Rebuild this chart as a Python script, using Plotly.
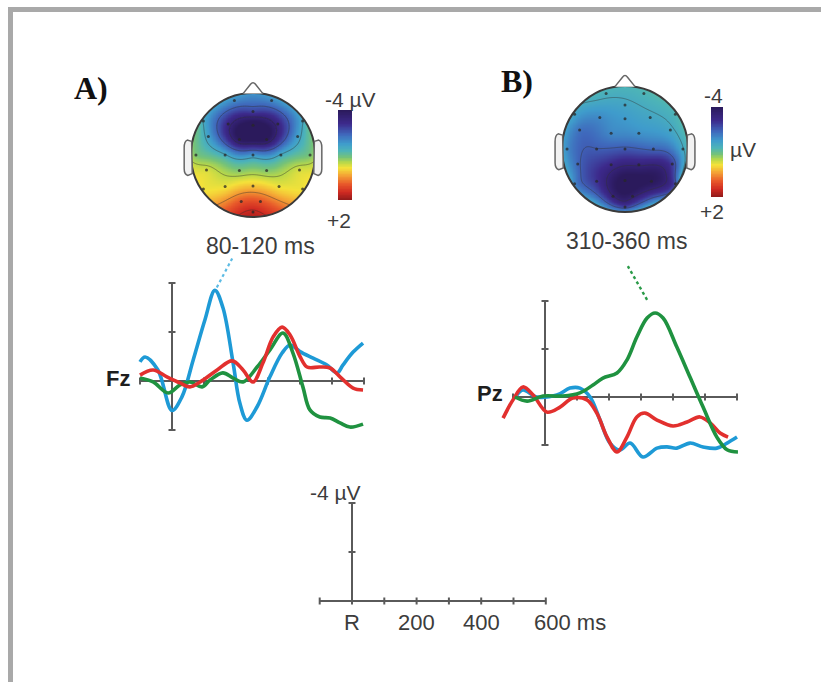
import numpy as np
import plotly.graph_objects as go

W, H = 821, 682

# ---------------- ERP waveforms (µV, negative plotted upward) ----------------
fz_blue_t = [-100, -84, -44, 0, 31, 66, 103, 134, 159, 191, 212, 234, 266, 306, 344, 369, 400, 441, 484, 516, 534, 566, 597]
fz_blue_v = [-0.78, -0.98, -0.45, 1.2, 0.65, -0.85, -2.5, -3.7, -3.0, -0.73, 0.9, 1.6, 1.05, -0.17, -1.14, -1.47, -1.2, -0.93, -0.65, -0.33, -0.65, -1.18, -1.55]

fz_green_t = [-100, -59, -12, 25, 56, 94, 119, 159, 191, 222, 266, 306, 347, 378, 409, 431, 462, 494, 525, 556, 597]
fz_green_v = [-0.12, 0.04, 0.49, 0.16, 0.04, 0.24, -0.04, -0.33, -0.12, 0.04, -0.57, -1.27, -1.96, -1.14, 0.24, 1.18, 1.47, 1.51, 1.71, 1.88, 1.76]

fz_red_t = [-100, -59, -16, 25, 56, 88, 141, 188, 222, 253, 284, 316, 344, 369, 400, 422, 462, 494, 525, 566, 597]
fz_red_v = [-0.24, -0.45, -0.17, 0.08, 0.24, 0.04, -0.45, -0.82, -0.45, 0.04, -0.73, -1.8, -2.2, -1.88, -1.0, -0.57, -0.57, -0.53, -0.17, 0.29, 0.37]

pz_blue_t = [-88, -69, -25, 37, 78, 109, 141, 172, 203, 234, 266, 306, 350, 381, 412, 453, 494, 537, 569, 600]
pz_blue_v = [-0.08, -0.29, 0.0, -0.08, -0.37, -0.37, 0.0, 0.96, 1.92, 2.21, 1.92, 2.5, 2.13, 2.08, 2.13, 1.92, 2.08, 2.13, 1.92, 1.67]

pz_red_t = [-131, -100, -69, -37, 6, 47, 87, 131, 162, 194, 225, 256, 287, 312, 350, 400, 444, 484, 516, 547, 572]
pz_red_v = [0.88, 0.12, -0.42, -0.08, 0.63, 0.42, 0.04, 0.12, 0.67, 1.67, 2.29, 1.67, 0.83, 0.67, 0.96, 1.21, 1.04, 0.83, 1.08, 1.5, 1.67]

pz_green_t = [-94, -56, -6, 56, 109, 150, 181, 225, 256, 287, 319, 344, 369, 412, 453, 494, 537, 569, 603]
pz_green_v = [0.0, 0.17, -0.04, -0.04, -0.17, -0.5, -0.79, -1.0, -1.54, -2.5, -3.29, -3.5, -3.29, -2.08, -0.83, 0.42, 1.67, 2.2, 2.29]

time_ticks = [-100, 0, 100, 200, 300, 400, 500, 600]
volt_ticks = [-4, -2, 2]
scale_labels = ["R", "200", "400", "600 ms"]
scale_label_t = [0, 200, 400, 600]

# ---------------- scalp topographies ----------------
elec_names = ["Fp1", "Fp2", "AFz", "F7", "F3", "Fz", "F4", "F8", "FC5", "FC1", "FC2", "FC6",
              "T7", "C3", "Cz", "C4", "T8", "CP5", "CP1", "CP2", "CP6",
              "P7", "P3", "Pz", "P4", "P8", "O1", "Oz", "O2"]
elec_x = [-0.3, 0.3, 0.0, -0.8, -0.4, 0.0, 0.4, 0.8, -0.72, -0.22, 0.22, 0.72,
          -0.92, -0.45, 0.0, 0.45, 0.92, -0.75, -0.22, 0.22, 0.75,
          -0.8, -0.45, 0.0, 0.42, 0.8, -0.19, 0.0, 0.12]
elec_y = [0.88, 0.88, 0.7, 0.55, 0.5, 0.48, 0.5, 0.55, 0.3, 0.25, 0.25, 0.3,
          0.0, 0.0, 0.0, 0.0, 0.0, -0.24, -0.25, -0.25, -0.24,
          -0.55, -0.51, -0.5, -0.51, -0.55, -0.75, -0.92, -0.75]
# outer ring positions (degrees, counter-clockwise from the right ear)
rim_deg = [90, 60, 30, 0, -30, -60, -90, -120, -150, 180, 150, 120]

topo_a_elec = [-2.0, -2.0, -2.8, -1.6, -3.3, -4.4, -3.3, -1.6, -1.7, -4.0, -4.0, -1.7,
               -0.9, -1.4, -1.7, -1.4, -0.9, -0.3, -0.8, -0.8, -0.3,
               -0.2, -0.2, 0.1, -0.2, -0.2, 1.0, 1.6, 1.0]
topo_a_rim = [-1.9, -1.7, -1.1, -0.6, -0.1, 0.8, 1.7, 0.8, -0.1, -0.6, -1.1, -1.7]

topo_b_elec = [-1.4, -1.3, -1.6, -1.7, -2.0, -1.8, -1.6, -1.3, -2.3, -2.0, -1.9, -1.6,
               -2.0, -2.5, -2.6, -2.4, -1.5, -2.4, -3.2, -3.4, -2.9,
               -2.2, -3.0, -4.2, -4.0, -2.9, -3.5, -3.0, -3.6]
topo_b_rim = [-1.3, -1.2, -1.2, -1.3, -1.4, -1.5, -1.5, -1.5, -1.6, -1.6, -1.6, -1.3]

cmin, cmax = -4.0, 2.0
topo_colors = [
    [0.0, "#2b1a5c"], [0.15, "#3d2a8c"], [0.27, "#3f68bc"], [0.37, "#3f9ccc"],
    [0.45, "#4db4b8"], [0.52, "#74c27a"], [0.58, "#b8d84a"], [0.64, "#f4e23a"],
    [0.72, "#f4a535"], [0.82, "#e8582a"], [0.91, "#d02a22"], [1.0, "#8e1a1a"],
]

BLUE, GREEN, RED = "#1e9ad6", "#1f9240", "#e2302e"
AXIS = "#5a5a5a"
FONT = "Liberation Sans"


def xdom(left, right):
    return [left / W, right / W]


def ydom(top, bottom):
    return [1 - bottom / H, 1 - top / H]


def px_x(p):
    return p / W


def px_y(p):
    return 1 - p / H


def tps_surface(px, py, pv, gx, gy, lam=0.01):
    px, py, pv = np.asarray(px), np.asarray(py), np.asarray(pv)
    n = len(px)
    d = np.hypot(px[:, None] - px[None, :], py[:, None] - py[None, :])
    K = np.where(d > 0, d ** 2 * np.log(np.maximum(d, 1e-12)), 0.0)
    A = np.zeros((n + 3, n + 3))
    A[:n, :n] = K + lam * np.eye(n)
    A[:n, n] = 1
    A[:n, n + 1] = px
    A[:n, n + 2] = py
    A[n, :n] = 1
    A[n + 1, :n] = px
    A[n + 2, :n] = py
    sol = np.linalg.solve(A, np.concatenate([pv, np.zeros(3)]))
    w, a = sol[:n], sol[n:]
    X, Y = np.meshgrid(gx, gy)
    dd = np.hypot(X[..., None] - px, Y[..., None] - py)
    U = np.where(dd > 0, dd ** 2 * np.log(np.maximum(dd, 1e-12)), 0.0)
    return U @ w + a[0] + a[1] * X + a[2] * Y


fig = go.Figure()
layout = dict(
    width=W, height=H, margin=dict(l=0, r=0, t=0, b=0),
    paper_bgcolor="white", plot_bgcolor="rgba(0,0,0,0)", showlegend=False,
)


def hidden_axis(domain, rng, anchor):
    return dict(domain=domain, range=rng, anchor=anchor, visible=False,
                showgrid=False, zeroline=False, fixedrange=True)


# ---- waveform panels: origin px, px per ms, px per µV, px box
panels = {
    1: dict(ox=172, oy=381, sx=0.32, sy=24.5, box=(130, 375, 250, 445)),
    2: dict(ox=545, oy=397, sx=0.32, sy=24.0, box=(495, 750, 258, 465)),
    3: dict(ox=352, oy=601, sx=0.323, sy=24.5, box=(300, 560, 495, 612)),
}
for k, p in panels.items():
    l, r, t, b = p["box"]
    xr = [(l - p["ox"]) / p["sx"], (r - p["ox"]) / p["sx"]]
    yr = [(b - p["oy"]) / p["sy"], (t - p["oy"]) / p["sy"]]
    sfx = "" if k == 1 else str(k)
    layout["xaxis" + sfx] = hidden_axis(xdom(l, r), xr, "y" + sfx)
    layout["yaxis" + sfx] = hidden_axis(ydom(t, b), yr, "x" + sfx)

shapes = []

# frame edges
shapes.append(dict(type="rect", xref="paper", yref="paper", x0=px_x(8), x1=1.0,
                   y0=px_y(12), y1=px_y(7), fillcolor="#a9a9a9", line_width=0, layer="below"))
shapes.append(dict(type="rect", xref="paper", yref="paper", x0=px_x(8), x1=px_x(13),
                   y0=0.0, y1=px_y(7), fillcolor="#a9a9a9", line_width=0, layer="below"))


def draw_axes(k, v_top, v_bottom, vticks):
    sfx = "" if k == 1 else str(k)
    xr, yr = "x" + sfx, "y" + sfx
    sx, sy = panels[k]["sx"], panels[k]["sy"]
    line = dict(color=AXIS, width=2)
    shapes.append(dict(type="line", xref=xr, yref=yr, x0=time_ticks[0], x1=time_ticks[-1],
                       y0=0, y1=0, line=line, layer="below"))
    shapes.append(dict(type="line", xref=xr, yref=yr, x0=0, x1=0, y0=v_top, y1=v_bottom,
                       line=line, layer="below"))
    for tt in time_ticks:
        shapes.append(dict(type="line", xref=xr, yref=yr, x0=tt, x1=tt,
                           y0=-3.5 / sy, y1=3.5 / sy, line=line, layer="below"))
    for vt in vticks:
        shapes.append(dict(type="line", xref=xr, yref=yr, x0=-3.5 / sx, x1=3.5 / sx,
                           y0=vt, y1=vt, line=line, layer="below"))


draw_axes(1, -4, 2, volt_ticks)
draw_axes(2, -4, 2, volt_ticks)
draw_axes(3, -4, 0, [-4, -2])


def wave(t, v, color, k):
    sfx = "" if k == 1 else str(k)
    fig.add_trace(go.Scatter(x=t, y=v, mode="lines", xaxis="x" + sfx, yaxis="y" + sfx,
                             line=dict(color=color, width=3.6, shape="spline", smoothing=1.0),
                             hoverinfo="skip"))


wave(fz_blue_t, fz_blue_v, BLUE, 1)
wave(fz_green_t, fz_green_v, GREEN, 1)
wave(fz_red_t, fz_red_v, RED, 1)
wave(pz_blue_t, pz_blue_v, BLUE, 2)
wave(pz_red_t, pz_red_v, RED, 2)
wave(pz_green_t, pz_green_v, GREEN, 2)

# dotted connectors from the component peaks up to the time-window labels
ia = int(np.argmin(fz_blue_v))
fig.add_trace(go.Scatter(x=[fz_blue_t[ia] + 6, 188], y=[fz_blue_v[ia] - 0.12, -5.0], mode="lines",
                         xaxis="x", yaxis="y", hoverinfo="skip",
                         line=dict(color="#5cbbe4", width=2.2, dash="dot")))
ib = int(np.argmin(pz_green_v))
fig.add_trace(go.Scatter(x=[pz_green_t[ib] - 25, 259], y=[pz_green_v[ib] - 0.55, -5.45], mode="lines",
                         xaxis="x2", yaxis="y2", hoverinfo="skip",
                         line=dict(color="#2a9a48", width=2.4, dash="dot")))

# ---- topographic maps
rim_x = list(np.cos(np.radians(rim_deg)))
rim_y = list(np.sin(np.radians(rim_deg)))
grid = np.linspace(-1.03, 1.03, 181)

maps = [
    dict(k=4, cx=253, cy=155, r=62, elec=topo_a_elec, rim=topo_a_rim),
    dict(k=5, cx=625, cy=149, r=63, elec=topo_b_elec, rim=topo_b_rim),
]
ring = np.radians(np.linspace(0, 360, 121))
for m in maps:
    k, cx, cy, r = m["k"], m["cx"], m["cy"], m["r"]
    half = 80
    layout["xaxis%d" % k] = hidden_axis(xdom(cx - half, cx + half), [-half / r, half / r], "y%d" % k)
    layout["yaxis%d" % k] = hidden_axis(ydom(cy - half, cy + half), [-half / r, half / r], "x%d" % k)
    xr, yr = "x%d" % k, "y%d" % k
    Z = tps_surface(elec_x + rim_x, elec_y + rim_y, m["elec"] + m["rim"], grid, grid)
    Z = np.clip(Z, cmin, cmax)
    Gx, Gy = np.meshgrid(grid, grid)
    Zm = np.where(np.hypot(Gx, Gy) <= 1.01, Z, np.nan)
    fig.add_trace(go.Heatmap(x=grid, y=grid, z=Zm, xaxis=xr, yaxis=yr, zmin=cmin, zmax=cmax,
                             colorscale=topo_colors, showscale=False, zsmooth="best",
                             hoverinfo="skip"))
    fig.add_trace(go.Contour(x=grid, y=grid, z=Z, xaxis=xr, yaxis=yr, showscale=False,
                             contours=dict(coloring="lines", start=-3.5, end=1.5, size=1.0),
                             line=dict(width=1, color="rgba(50,50,50,0.45)"),
                             colorscale=[[0, "rgba(50,50,50,0.45)"], [1, "rgba(50,50,50,0.45)"]],
                             hoverinfo="skip"))
    fig.add_trace(go.Scatter(x=elec_x, y=elec_y, mode="markers", xaxis=xr, yaxis=yr,
                             marker=dict(size=3, color="rgba(40,40,40,0.75)"), hoverinfo="skip"))
    # white surround hides everything outside the scalp
    rad = 1.005
    path = "M -1.12 -1.12 L 1.12 -1.12 L 1.12 1.12 L -1.12 1.12 Z M " + " L ".join(
        "%.4f %.4f" % (rad * np.cos(a), rad * np.sin(a)) for a in ring) + " Z"
    shapes.append(dict(type="path", xref=xr, yref=yr, path=path, fillcolor="white",
                       line_width=0, fillrule="evenodd", layer="above"))
    hl = dict(color="#3a3a3a", width=2)
    shapes.append(dict(type="circle", xref=xr, yref=yr, x0=-1, x1=1, y0=-1, y1=1,
                       line=hl, layer="above"))
    el = dict(color="#666666", width=1.5)
    shapes.append(dict(type="path", xref=xr, yref=yr, layer="above", line=el, fillcolor="#f2f2f2",
                       path="M -0.99 0.22 L -1.06 0.24 Q -1.11 0.22 -1.11 0.12 L -1.11 -0.22 "
                            "Q -1.11 -0.31 -1.05 -0.33 L -0.98 -0.3 Z"))
    shapes.append(dict(type="path", xref=xr, yref=yr, layer="above", line=el, fillcolor="#f2f2f2",
                       path="M 0.99 0.22 L 1.06 0.24 Q 1.11 0.22 1.11 0.12 L 1.11 -0.22 "
                            "Q 1.11 -0.31 1.05 -0.33 L 0.98 -0.3 Z"))
    shapes.append(dict(type="path", xref=xr, yref=yr, layer="above", line=el, fillcolor="white",
                       path="M -0.16 0.99 L -0.04 1.14 Q 0 1.19 0.04 1.14 L 0.16 0.99"))

# ---- colour bars (−4 at the top, +2 at the bottom)
bar_vals = np.linspace(cmin, cmax, 120)
bars = [dict(k=6, box=(338, 352, 110, 200)), dict(k=7, box=(711, 723, 107, 197))]
for b in bars:
    k = b["k"]
    l, r, t, bt = b["box"]
    layout["xaxis%d" % k] = hidden_axis(xdom(l, r), [0, 1], "y%d" % k)
    layout["yaxis%d" % k] = hidden_axis(ydom(t, bt), [cmax, cmin], "x%d" % k)
    fig.add_trace(go.Heatmap(x=[0.5], y=bar_vals, z=bar_vals[:, None], xaxis="x%d" % k,
                             yaxis="y%d" % k, zmin=cmin, zmax=cmax, colorscale=topo_colors,
                             showscale=False, zsmooth="best", hoverinfo="skip"))

layout["shapes"] = shapes

ann = []


def label(text, x, y, size=21, color="#3c3c3c", xanchor="center", family=FONT, **kw):
    ann.append(dict(text=text, x=px_x(x), y=px_y(y), xref="paper", yref="paper",
                    xanchor=xanchor, yanchor="middle", showarrow=False,
                    font=dict(family=family, size=size, color=color), **kw))


label("<b>A)</b>", 91, 88, size=32, color="#111111", family="Liberation Serif")
label("<b>B)</b>", 517, 81, size=32, color="#111111", family="Liberation Serif")
label("80-120 ms", 260, 246, size=23)
label("310-360 ms", 626, 241, size=23)
label("-4 µV", 350, 100, size=21)
label("+2", 339, 221, size=21)
label("-4", 713, 96, size=21)
label("µV", 743, 149, size=21)
label("+2", 712, 212, size=21)

# channel names, anchored to the left end of each time axis
ann.append(dict(text="<b>Fz</b>", x=time_ticks[0], y=0, xref="x", yref="y", xanchor="right",
                yanchor="middle", xshift=-8, yshift=3, showarrow=False,
                font=dict(family=FONT, size=22, color="#1e1e1e")))
ann.append(dict(text="<b>Pz</b>", x=time_ticks[0], y=0, xref="x2", yref="y2", xanchor="right",
                yanchor="middle", xshift=-8, yshift=4, showarrow=False,
                font=dict(family=FONT, size=22, color="#1e1e1e")))

# calibration bar labels
for t_, s_ in zip(scale_label_t, scale_labels):
    shift = -14 if s_.endswith("ms") else 0
    ann.append(dict(text=s_, x=t_, y=0, xref="x3", yref="y3",
                    xanchor="left" if shift else "center", yanchor="middle",
                    xshift=shift, yshift=-21, showarrow=False,
                    font=dict(family=FONT, size=22, color="#3c3c3c")))
ann.append(dict(text="-4 µV", x=0, y=-4, xref="x3", yref="y3", xanchor="right", yanchor="middle",
                xshift=11, yshift=11, showarrow=False,
                font=dict(family=FONT, size=21, color="#3c3c3c")))

layout["annotations"] = ann
fig.update_layout(**layout)
fig.write_html("out.html")
